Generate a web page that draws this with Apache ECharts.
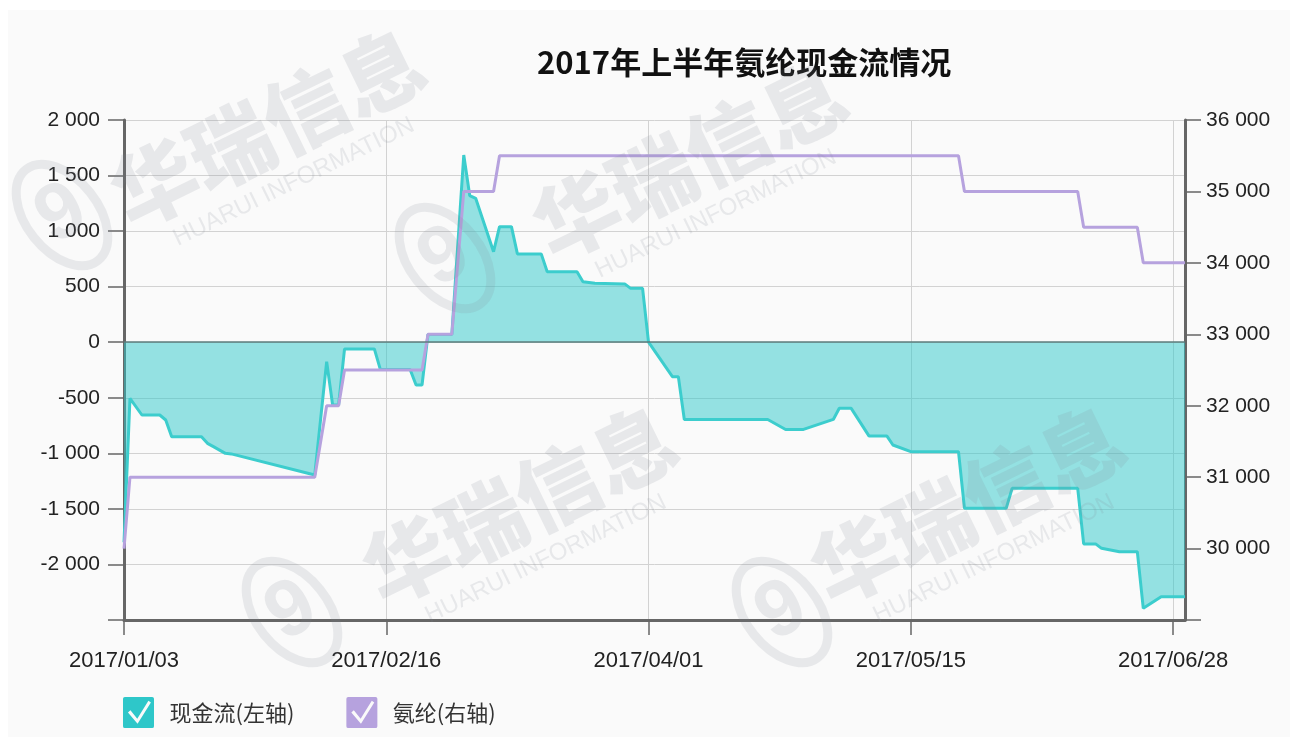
<!DOCTYPE html>
<html>
<head>
<meta charset="utf-8">
<title>2017年上半年氨纶现金流情况</title>
<script src="https://cdn.jsdelivr.net/npm/echarts@6/dist/echarts.min.js"></script>
<style>
  html, body { margin: 0; padding: 0; background: #ffffff; }
  #chart { position: absolute; left: 8px; top: 10px; width: 1282px; height: 727px; }
</style>
</head>
<body>
<div id="chart"></div>
<script>
// 现金流 (left axis)
const cashDates = [
  '2017/01/03', '2017/01/04', '2017/01/06', '2017/01/09', '2017/01/10', '2017/01/11',
  '2017/01/16', '2017/01/17', '2017/01/18', '2017/01/20', '2017/01/21', '2017/02/04',
  '2017/02/06', '2017/02/07', '2017/02/08', '2017/02/09', '2017/02/14', '2017/02/15',
  '2017/02/20', '2017/02/21', '2017/02/22', '2017/02/23', '2017/02/27', '2017/03/01',
  '2017/03/02', '2017/03/03', '2017/03/06', '2017/03/07', '2017/03/09', '2017/03/10',
  '2017/03/14', '2017/03/15', '2017/03/20', '2017/03/21', '2017/03/23', '2017/03/28',
  '2017/03/29', '2017/03/31', '2017/04/01', '2017/04/05', '2017/04/06', '2017/04/07',
  '2017/04/21', '2017/04/24', '2017/04/27', '2017/05/02', '2017/05/03', '2017/05/05',
  '2017/05/08', '2017/05/11', '2017/05/12', '2017/05/15', '2017/05/23', '2017/05/24',
  '2017/05/31', '2017/06/01', '2017/06/12', '2017/06/13', '2017/06/15', '2017/06/16',
  '2017/06/19', '2017/06/22', '2017/06/23', '2017/06/26', '2017/06/30'
];
const cashValues = [
  -1800, -505, -655, -655, -700, -850,
  -850, -910, -940, -1000, -1005, -1195,
  -175, -565, -565, -60, -60, -245,
  -245, -385, -385, 70, 70, 1685,
  1320, 1295, 815, 1040, 1040, 795,
  795, 635, 635, 545, 530, 525,
  485, 485, 0, -310, -310, -695,
  -695, -785, -785, -695, -595, -595,
  -845, -845, -925, -985, -985, -1495,
  -1495, -1315, -1315, -1815, -1815, -1855,
  -1885, -1885, -2395, -2290, -2290
];

// 氨纶 (right axis)
const spandexDates = [
  '2017/01/03', '2017/01/04', '2017/02/04', '2017/02/06', '2017/02/08', '2017/02/09',
  '2017/02/22', '2017/02/23', '2017/02/27', '2017/03/01', '2017/03/06', '2017/03/07',
  '2017/05/23', '2017/05/24', '2017/06/12', '2017/06/13', '2017/06/22', '2017/06/23',
  '2017/06/30'
];
const spandexValues = [
  30000, 31000, 31000, 32000, 32000, 32500,
  32500, 33000, 33000, 35000, 35000, 35500,
  35500, 35000, 35000, 34500, 34500, 34000,
  34000
];

const seriesNames = ['现金流(左轴)', '氨纶(右轴)'];
const titleText = '2017年上半年氨纶现金流情况';

const START = Date.UTC(2017, 0, 3);
const DAY = 86400000;
function dayOf(s) {
  const p = s.split('/');
  return (Date.UTC(+p[0], +p[1] - 1, +p[2]) - START) / DAY;
}
function dateOf(d) {
  const t = new Date(START + d * DAY);
  const mm = String(t.getUTCMonth() + 1).padStart(2, '0');
  const dd = String(t.getUTCDate()).padStart(2, '0');
  return t.getUTCFullYear() + '/' + mm + '/' + dd;
}
function fmt(v) {
  const s = String(Math.abs(v)).replace(/\B(?=(\d{3})+(?!\d))/g, ' ');
  return (v < 0 ? '-' : '') + s;
}

// checkbox icon: rounded square with a check mark cut out
const checkIcon = 'path://M6,0 L94,0 Q100,0 100,6 L100,94 Q100,100 94,100 L6,100 Q0,100 0,94 L0,6 Q0,0 6,0 Z ' +
  'M16,50 L47,86 L90,18 L82,12 L46,70 L24,43 Z';

// faint company watermark
const wmColor = 'rgba(128,132,150,0.15)';
const rot = 26 * Math.PI / 180;
function watermark(cx, cy) {
  return [
    { type: 'text', x: cx, y: cy, rotation: rot, z: 100, silent: true,
      style: { text: '华瑞信息', fill: wmColor, font: '900 84px "Noto Sans CJK SC"',
               align: 'center', verticalAlign: 'middle' } },
    { type: 'text', x: cx + 26, y: cy + 54, rotation: rot, z: 100, silent: true,
      style: { text: 'HUARUI INFORMATION', fill: wmColor, font: '24px "Liberation Sans", Arial',
               align: 'center', verticalAlign: 'middle' } }
  ];
}
function logo(cx, cy) {
  return [
    { type: 'ellipse', x: cx, y: cy, rotation: -0.9, z: 100, silent: true,
      shape: { cx: 0, cy: 0, rx: 58, ry: 36 },
      style: { fill: 'none', stroke: wmColor, lineWidth: 9 } },
    { type: 'text', x: cx, y: cy, rotation: 0.5, z: 100, silent: true,
      style: { text: '9', fill: wmColor, font: 'bold 80px "Liberation Sans", Arial',
               align: 'center', verticalAlign: 'middle' } }
  ];
}
const ox = 8, oy = 10;

const chart = echarts.init(document.getElementById('chart'), null, { renderer: 'canvas' });
const option = {
  backgroundColor: '#fafafa',
  animation: false,
  title: {
    text: titleText,
    left: 532 - ox,
    top: 32,
    textStyle: { fontSize: 31, fontWeight: 'bold', color: '#111', fontFamily: '"Noto Sans CJK SC", "Liberation Sans", sans-serif' }
  },
  graphic: [].concat(
    watermark(268 - ox, 128 - oy),
    watermark(690 - ox, 160 - oy),
    watermark(520 - ox, 505 - oy),
    watermark(968 - ox, 505 - oy),
    logo(62 - ox, 215 - oy),
    logo(445 - ox, 258 - oy),
    logo(292 - ox, 612 - oy),
    logo(782 - ox, 612 - oy)
  ),
  legend: {
    left: 118 - ox,
    top: 692 - oy,
    itemWidth: 32,
    itemHeight: 31,
    itemGap: 52,
    textStyle: {
      fontSize: 22, color: '#333', padding: [0, 0, 0, 10],
      fontFamily: '"Noto Sans CJK SC", sans-serif'
    },
    data: [
      { name: seriesNames[0], icon: checkIcon },
      { name: seriesNames[1], icon: checkIcon }
    ]
  },
  grid: { left: 124 - ox, right: 1282 - (1185 - ox), top: 120 - oy, bottom: 727 - (620 - oy) },
  xAxis: {
    type: 'value',
    min: 0,
    max: 178,
    interval: 44,
    axisLine: { show: true, onZero: false, lineStyle: { color: '#666', width: 3 } },
    axisTick: { show: true, length: 15, lineStyle: { color: '#666', width: 1.5 } },
    axisLabel: {
      margin: 30, fontSize: 22, color: '#222',
      fontFamily: '"Liberation Sans", Arial',
      formatter: function (v) { return dateOf(v); }
    },
    splitLine: { show: true, lineStyle: { color: '#d2d2d2', width: 1 } }
  },
  yAxis: [
    {
      type: 'value',
      min: -2500,
      max: 2000,
      interval: 500,
      axisLine: { show: true, lineStyle: { color: '#666', width: 3 } },
      axisTick: { show: true, length: 16, lineStyle: { color: '#666', width: 1.5 } },
      axisLabel: {
        margin: 24, fontSize: 21, color: '#222', fontFamily: '"Liberation Sans", Arial',
        formatter: function (v) { return v === -2500 ? '' : fmt(v); }
      },
      splitLine: { show: true, lineStyle: { color: '#d2d2d2', width: 1 } }
    },
    {
      type: 'value',
      min: 29000,
      max: 36000,
      interval: 1000,
      axisLine: { show: true, lineStyle: { color: '#666', width: 3 } },
      axisTick: { show: true, length: 16, lineStyle: { color: '#666', width: 1.5 } },
      axisLabel: {
        margin: 21, fontSize: 21, color: '#222', fontFamily: '"Liberation Sans", Arial',
        formatter: function (v) { return v === 29000 ? '' : fmt(v); }
      },
      splitLine: { show: false }
    }
  ],
  series: [
    {
      name: seriesNames[0],
      type: 'line',
      yAxisIndex: 0,
      symbol: 'none',
      data: cashDates.map(function (d, i) { return [dayOf(d), cashValues[i]]; }),
      itemStyle: { color: '#2ec7c9' },
      lineStyle: { color: '#3ccdcd', width: 3 },
      areaStyle: { color: '#2ec7c9', opacity: 0.5 },
      markLine: {
        silent: true,
        symbol: 'none',
        label: { show: false },
        lineStyle: { color: '#5d7c7c', width: 1.5, type: 'solid' },
        data: [{ yAxis: 0 }]
      }
    },
    {
      name: seriesNames[1],
      type: 'line',
      yAxisIndex: 1,
      symbol: 'none',
      data: spandexDates.map(function (d, i) { return [dayOf(d), spandexValues[i]]; }),
      itemStyle: { color: '#b6a2de' },
      lineStyle: { color: '#b6a2de', width: 3 }
    }
  ]
};
chart.setOption(option);
</script>
</body>
</html>
